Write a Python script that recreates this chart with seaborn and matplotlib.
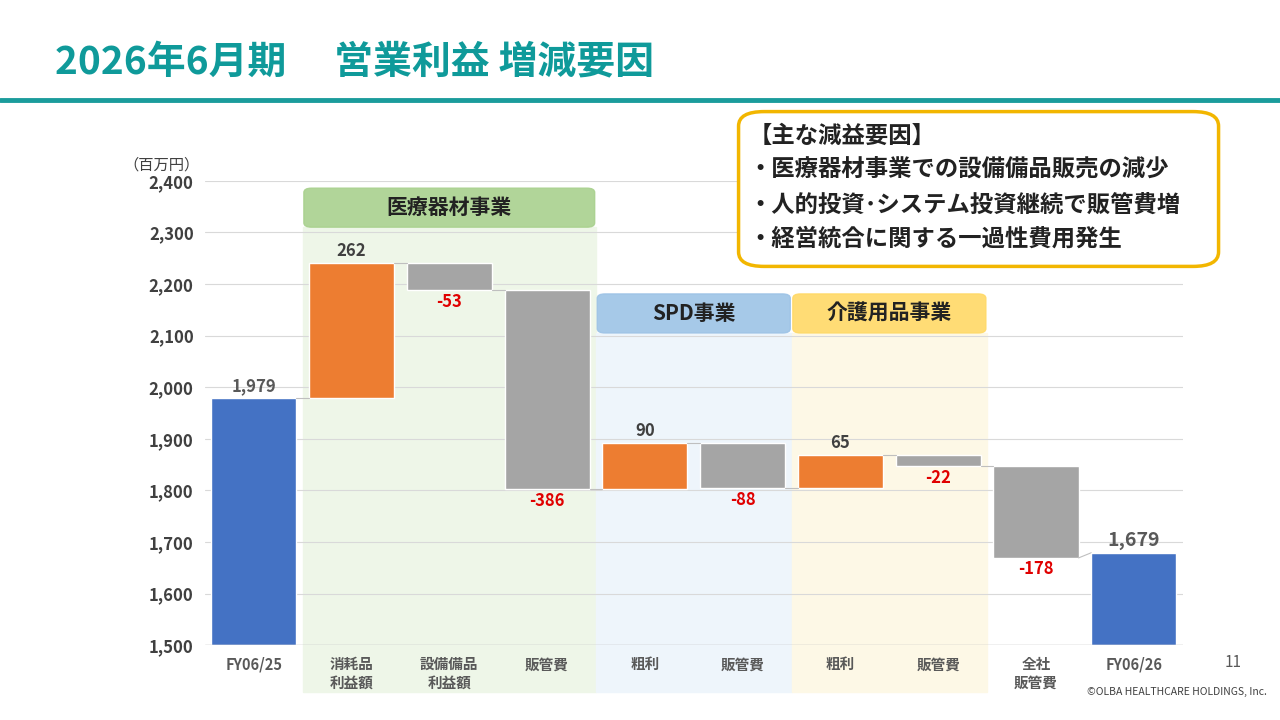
import matplotlib
matplotlib.use("Agg")
import matplotlib.pyplot as plt
import seaborn as sns
from matplotlib.patches import FancyBboxPatch, Rectangle

sns.set_theme(style="white")
plt.rcParams['font.family'] = ['Noto Sans CJK JP', 'DejaVu Sans']

categories = ["FY06/25", "消耗品\n利益額", "設備備品\n利益額", "販管費", "粗利", "販管費", "粗利", "販管費", "全社\n販管費", "FY06/26"]
start_value = 1979
changes = [262, -53, -386, 90, -88, 65, -22, -178]
end_value = 1679
labels = ["1,979", "262", "-53", "-386", "90", "-88", "65", "-22", "-178", "1,679"]
segments = [("医療器材事業", 1, 3, "#a9d18e", "#eef6e8"), ("SPD事業", 4, 5, "#9dc3e6", "#eef5fb"), ("介護用品事業", 6, 7, "#ffd966", "#fdf8e6")]

blue, orange, gray = "#4472c4", "#ed7d31", "#a5a5a5"

W, H = 1280, 720
fig = plt.figure(figsize=(12.8, 7.2), dpi=100)
ax = fig.add_axes([0.16, 0.104, 0.764, 0.645])
ax.set_xlim(-0.5, 9.5)
ax.set_ylim(1500, 2400)

for name, a, b, edge, fill in segments:
    ytop = 2310 if a == 1 else 2105
    ax.add_patch(Rectangle((a - 0.5, 1410), b - a + 1, ytop - 1410, color=fill, zorder=0, clip_on=False))
    x0 = ax.transData.transform((a - 0.5, 0))[0] / W
    x1 = ax.transData.transform((b + 0.5, 0))[0] / W
    y0 = ax.transData.transform((0, ytop))[1] / H
    fig.patches.append(FancyBboxPatch((x0 + 0.001, y0), x1 - x0 - 0.002, 39 / H,
                                      boxstyle="round,pad=0,rounding_size=0.006", transform=fig.transFigure,
                                      fc=edge, ec=edge, alpha=0.9, zorder=3))
    fig.text((x0 + x1) / 2, y0 + 19.5 / H, name, ha="center", va="center", fontsize=15,
             fontweight="bold", color="#222222", zorder=4)

for y in range(1500, 2401, 100):
    ax.axhline(y, color="#d9d9d9", lw=0.8, zorder=1)

cum = start_value
bw = 0.87
ax.bar(0, start_value - 1500, bottom=1500, width=bw, color=blue, zorder=2)
ax.text(0, start_value + 5, labels[0], ha="center", va="bottom", fontsize=12, fontweight="bold", color="#595959")
for i, c in enumerate(changes, start=1):
    lo, hi = (cum, cum + c) if c > 0 else (cum + c, cum)
    ax.bar(i, hi - lo, bottom=lo, width=bw, color=orange if c > 0 else gray, zorder=2)
    ax.plot([i - 1 + bw / 2, i - bw / 2], [cum, cum], color="#bfbfbf", lw=0.8, zorder=2)
    if c > 0:
        ax.text(i, hi + 5, labels[i], ha="center", va="bottom", fontsize=12, fontweight="bold", color="#404040")
    else:
        ax.text(i, lo - 5, labels[i], ha="center", va="top", fontsize=12, fontweight="bold", color="#e00000")
    cum += c
ax.plot([8 + bw / 2, 9 - bw / 2], [cum, end_value], color="#bfbfbf", lw=0.8, zorder=2)
ax.bar(9, end_value - 1500, bottom=1500, width=bw, color=blue, zorder=2)
ax.text(9, end_value + 5, labels[9], ha="center", va="bottom", fontsize=14, fontweight="bold", color="#595959")

ax.set_xticks(range(10))
ax.set_xticklabels(categories, fontsize=10.5, fontweight="bold", color="#595959")
ax.set_yticks(range(1500, 2401, 100))
ax.set_yticklabels([f"{v:,}" for v in range(1500, 2401, 100)], fontsize=12, fontweight="bold", color="#404040")
ax.tick_params(length=0, pad=8)
for s in ax.spines.values():
    s.set_visible(False)
ax.axhline(1500, color="#bfbfbf", lw=1, zorder=3)
ax.text(-0.55, 2430, "（百万円）", ha="right", va="center", fontsize=11, color="#404040")

fig.text(0.043, 0.913, "2026年6月期　 営業利益 増減要因", fontsize=28, fontweight="bold", color="#0f9a9a", va="center")
fig.add_artist(plt.Line2D([0, 1], [0.861, 0.861], color="#1a9c9c", lw=3.5))

fig.patches.append(FancyBboxPatch((0.577, 0.63), 0.375, 0.215, boxstyle="round,pad=0,rounding_size=0.02",
                                  transform=fig.transFigure, fc="white", ec="#f2b600", lw=2.5, zorder=5))
lines = ["【主な減益要因】", "・医療器材事業での設備備品販売の減少", "・人的投資･システム投資継続で販管費増", "・経営統合に関する一過性費用発生"]
for k, t in enumerate(lines):
    fig.text(0.585, 0.812 - k * 0.048, t, fontsize=16.8, fontweight="bold", color="#222222", va="center", zorder=6)

fig.text(0.963, 0.073, "11", fontsize=11, color="#595959", ha="center")
fig.text(0.99, 0.035, "©OLBA HEALTHCARE HOLDINGS, Inc.", fontsize=7.5, color="#404040", ha="right")

fig.savefig("out.png", dpi=100)
